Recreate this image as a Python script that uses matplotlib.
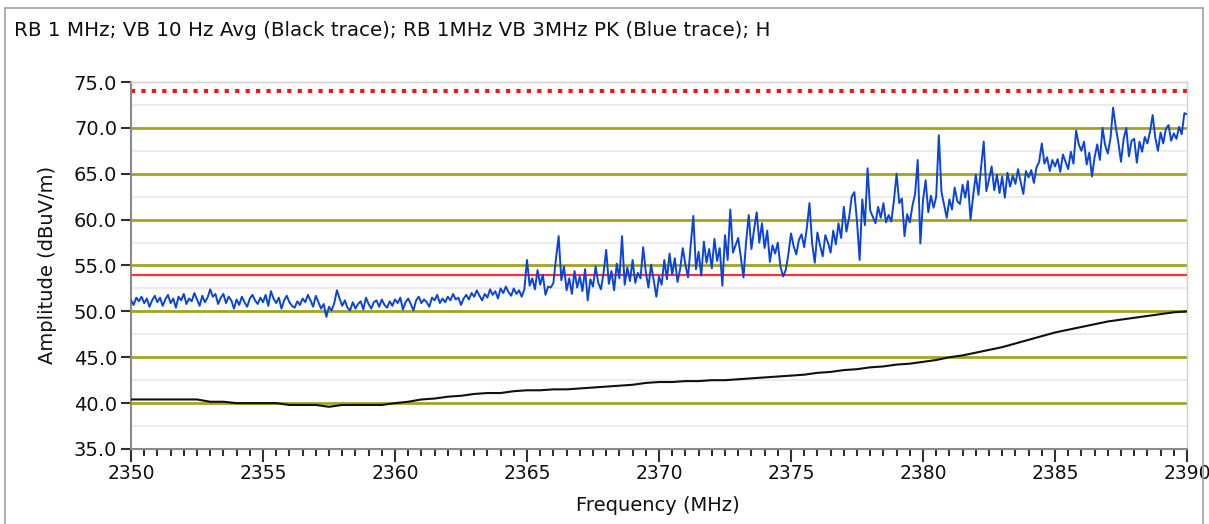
import numpy as np
import matplotlib
matplotlib.use("Agg")
import matplotlib.pyplot as plt
from matplotlib.patches import Rectangle
from matplotlib.ticker import MultipleLocator, FormatStrFormatter
import matplotlib.transforms as mtransforms

title = "RB 1 MHz; VB 10 Hz Avg (Black trace); RB 1MHz VB 3MHz PK (Blue trace); H"
x_label = "Frequency (MHz)"
y_label = "Amplitude (dBuV/m)"
f_start, f_stop = 2350, 2390
limit_pk = 74.0
limit_avg = 54.0

# Blue trace (peak), 0.1 MHz steps
blue_pk = [
    51.2, 50.7, 51.5, 51.1, 51.6, 50.9, 51.4, 50.5, 51.2, 51.7,
    51.0, 51.5, 50.6, 51.3, 51.8, 50.9, 51.4, 50.4, 51.6, 51.2,
    51.9, 50.8, 51.4, 51.1, 52.0, 51.3, 50.6, 51.7, 51.0, 51.5,
    52.4, 51.6, 51.9, 50.8, 51.5, 51.9, 50.9, 51.6, 51.2, 50.3,
    51.3, 50.7, 51.6, 51.0, 50.5, 51.4, 51.8, 51.2, 50.8, 51.5,
    51.0, 51.8, 50.6, 52.2, 51.4, 50.9, 51.5, 50.3, 51.2, 51.7,
    51.0, 50.6, 50.4, 51.1, 50.7, 51.4, 51.0, 51.8, 51.2, 50.5,
    51.7, 51.0, 50.3, 50.8, 49.4, 50.5, 50.1, 50.9, 52.3, 51.4,
    50.6, 51.2, 50.4, 50.1, 51.0, 50.3, 50.8, 51.1, 50.2, 51.5,
    50.8, 50.3, 51.0, 51.2, 50.5, 51.3, 50.7, 50.4, 51.1, 50.6,
    51.3, 50.9, 51.5, 50.2, 51.0, 51.4, 50.8, 50.1, 51.2, 51.6,
    50.9, 51.3, 51.0, 50.5, 51.5, 51.2, 51.8, 50.9, 51.4, 51.0,
    51.6, 51.2, 51.9, 51.3, 51.5, 50.7, 51.4, 51.8, 51.3, 52.0,
    51.6, 52.3, 51.7, 51.2, 51.9, 51.5, 52.4, 51.8, 52.2, 51.4,
    52.5, 52.0, 52.7, 52.1, 51.7, 52.5, 51.9, 52.3, 51.6, 52.4,
    55.6, 52.8, 53.6, 52.4, 54.5, 52.9, 54.0, 51.8, 52.7, 52.6,
    53.1, 55.8, 58.2, 53.4, 54.9, 52.3, 53.6, 51.9, 54.4, 52.6,
    53.8, 52.2, 54.6, 51.2, 53.5, 52.7, 54.9, 53.1, 52.4, 54.2,
    56.7, 53.0, 54.4, 52.3, 55.2, 53.6, 58.2, 52.9, 54.8, 53.3,
    55.6, 53.1, 54.2, 53.6, 57.0, 54.3, 52.6, 55.1, 53.4, 51.6,
    53.8, 52.9, 55.6, 53.5, 56.3, 54.0, 55.8, 53.2, 54.6, 56.9,
    55.1, 53.7, 57.2, 60.4, 54.6, 56.5, 53.9, 57.6, 55.3, 56.8,
    54.7, 57.9, 55.5, 56.9, 52.8, 58.3, 55.6, 61.1, 56.4, 57.2,
    58.0, 55.9, 53.7, 57.6, 60.5, 56.8, 58.9, 60.8, 57.5, 59.6,
    56.9, 58.8, 55.4, 57.2, 56.3, 57.5, 54.9, 53.8, 54.5, 56.2,
    58.5, 57.1, 56.2, 57.8, 58.4, 57.0, 59.1, 61.8, 57.4, 55.3,
    58.6, 57.2, 56.0, 58.3, 57.5, 56.4, 58.8, 57.3, 59.6, 58.0,
    61.4, 58.7, 60.2, 62.5, 63.0, 59.8, 55.6, 62.2, 59.4, 65.6,
    61.0, 60.3, 59.6, 61.4, 60.2, 61.8, 59.7, 60.5, 59.8, 62.1,
    65.0, 61.8, 62.3, 58.2, 60.6, 59.7, 61.5, 62.8, 66.5, 57.4,
    62.1, 64.3, 60.8, 62.6, 61.3, 62.5, 69.2, 63.0, 61.6, 60.2,
    62.2, 61.1, 63.5, 62.0, 61.7, 63.8, 62.4, 64.2, 60.0, 62.6,
    64.9, 62.7, 65.7, 68.5, 63.1, 64.4, 65.8, 63.2, 64.9, 62.9,
    64.7, 62.4, 65.1, 63.6, 64.8, 63.9, 65.5, 64.1, 62.8, 65.3,
    64.6, 65.4, 64.0, 65.7, 66.3, 68.3, 66.1, 66.8, 65.3, 66.5,
    65.8, 66.6, 65.2, 67.1, 66.3, 65.5, 67.4, 66.1, 69.7, 68.2,
    67.5, 68.5, 66.0, 67.3, 64.7, 66.8, 68.2, 66.5, 70.0, 68.1,
    67.2, 68.8, 72.2, 70.1, 68.4, 66.3, 68.8, 70.0, 66.9, 68.6,
    68.8, 66.2, 68.5, 67.4, 69.0, 68.3, 69.6, 71.4, 68.9, 67.5,
    69.5, 68.3, 69.9, 70.3, 68.6, 69.4, 68.8, 70.1, 69.3, 71.6,
    71.5,
]

# Black trace (average), 0.5 MHz steps
black_avg = [
    40.4, 40.4, 40.4, 40.4, 40.4, 40.4, 40.15, 40.15, 40.0, 40.0,
    40.0, 40.0, 39.8, 39.8, 39.8, 39.6, 39.8, 39.8, 39.8, 39.8,
    40.0, 40.15, 40.4, 40.5, 40.7, 40.8, 41.0, 41.1, 41.1, 41.3,
    41.4, 41.4, 41.5, 41.5, 41.6, 41.7, 41.8, 41.9, 42.0, 42.2,
    42.3, 42.3, 42.4, 42.4, 42.5, 42.5, 42.6, 42.7, 42.8, 42.9,
    43.0, 43.1, 43.3, 43.4, 43.6, 43.7, 43.9, 44.0, 44.2, 44.3,
    44.5, 44.7, 45.0, 45.2, 45.5, 45.8, 46.1, 46.5, 46.9, 47.3,
    47.7, 48.0, 48.3, 48.6, 48.9, 49.1, 49.3, 49.5, 49.7, 49.9,
    50.0,
]

W, H = 1209, 524
FS = 14
TFS = 13.5
fig = plt.figure(figsize=(W / 100, H / 100), dpi=100)
fig.patch.set_facecolor("white")

# outer frame
fig.add_artist(Rectangle((5 / W, -0.01), (1203 - 5) / W, (H - 8) / H + 0.01,
                         transform=fig.transFigure, fill=False,
                         edgecolor="#a0a0a0", linewidth=1.2))

fig.text(14 / W, 1 - 31 / H, title, fontsize=14.3, color="#101010",
         ha="left", va="center")

ax = fig.add_axes([131 / W, 1 - 449 / H, (1187 - 131) / W, (449 - 82) / H])

fb = np.linspace(f_start, f_stop, len(blue_pk))
fa = np.linspace(f_start, f_stop, len(black_avg))

ax.set_xlim(f_start, f_stop)
ax.set_ylim(35, 75)

# grid lines
for v in np.arange(37.5, 75, 5):
    ax.axhline(v, color="#ececec", lw=1.5, zorder=0)
for v in np.arange(40, 75, 5):
    ax.axhline(v, color="#a3a320", lw=2.0, zorder=1)

ax.axhline(limit_avg, color="#ff3030", lw=1.6, zorder=2)
ax.axhline(limit_pk, color="#ff1010", lw=3, ls=(0, (1, 1.5)), zorder=2)

ax.plot(fa, black_avg, color="#101010", lw=1.5, zorder=3)
ax.plot(fb, blue_pk, color="#0a44dd", lw=1.4, zorder=4)

ax.yaxis.set_major_locator(MultipleLocator(5))
ax.yaxis.set_major_formatter(FormatStrFormatter("%.1f"))
ax.xaxis.set_major_locator(MultipleLocator(5))
ax.xaxis.set_minor_locator(MultipleLocator(0.5))

for s in ["left", "bottom"]:
    ax.spines[s].set_color("#8a8a8a")
    ax.spines[s].set_linewidth(1.5)
for s in ["top", "right"]:
    ax.spines[s].set_color("#d0d0d0")
    ax.spines[s].set_linewidth(1.0)

ax.tick_params(axis="y", which="major", length=7, width=1.5, color="#303030",
               labelsize=FS, labelcolor="#101010", pad=3)
ax.tick_params(axis="x", which="major", length=9, width=1.5, color="#303030",
               labelsize=TFS, labelcolor="#101010", pad=2)
ax.tick_params(axis="x", which="minor", length=5, width=1.5, color="#303030")

ax.set_xlabel(x_label, fontsize=FS, color="#101010")
ax.set_ylabel(y_label, fontsize=FS, color="#101010")
ax.xaxis.set_label_coords((658 - 131) / 1056, (449 - 496) / 367)
ax.yaxis.set_label_coords((57 - 131) / 1056, (449 - 265) / 367)

fig.canvas.draw()
last = ax.get_xticklabels()[-1]
last.set_transform(last.get_transform() +
                   mtransforms.ScaledTranslation(-5 / 100, 0, fig.dpi_scale_trans))

fig.savefig("out.png", dpi=100, facecolor="white")
